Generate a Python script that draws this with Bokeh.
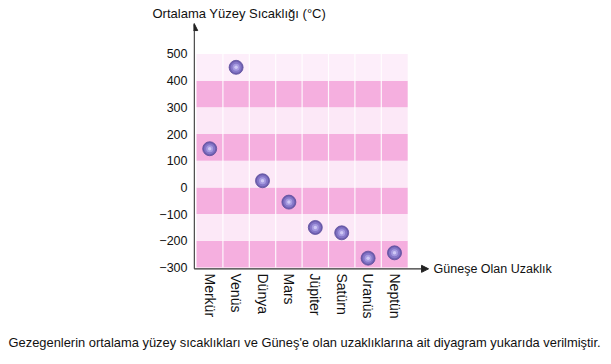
import math
from bokeh.plotting import figure
from bokeh.models import Range1d, FixedTicker, Arrow, NormalHead, Title, ColumnDataSource
from bokeh.core.properties import value
from bokeh.embed import file_html
from bokeh.resources import INLINE

planets = ["Merkür", "Venüs", "Dünya", "Mars", "Jüpiter", "Satürn", "Uranüs", "Neptün"]
temps = [145, 450, 25, -55, -150, -170, -265, -245]
y_ticks = [-300, -200, -100, 0, 100, 200, 300, 400, 500]
band_bottoms = [-300, -200, -100, 0, 100, 200, 300, 400]
band_colors = ["#f5afdf", "#fce8f7", "#f5afdf", "#fce8f7", "#f5afdf", "#fce8f7", "#f5afdf", "#fdeefa"]
y_title = "Ortalama Yüzey Sıcaklığı (°C)"
x_title = "Güneşe Olan Uzaklık"
caption = "Gezegenlerin ortalama yüzey sıcaklıkları ve Güneş'e olan uzaklıklarına ait diyagram yukarıda verilmiştir."

FONT = "Liberation Sans"
W, H = 610, 363
FL, FR, FT, FB = 193, 565, 20, 277
PXU = 26.4            # pixels per column
PYU = 0.2669          # pixels per degree
X0, Y0 = 196, 267     # pixel position of (0, -300)

p = figure(width=W, height=H, output_backend="svg", toolbar_location=None,
           x_range=Range1d((FL - X0) / PXU, (FR - X0) / PXU),
           y_range=Range1d(-300 - (FB - Y0) / PYU, -300 + (Y0 - FT) / PYU),
           min_border_left=FL, min_border_right=W - FR, min_border_top=FT,
           min_border_bottom=H - FB, background_fill_color="white",
           border_fill_color="white", outline_line_color=None)
p.grid.grid_line_color = None

n = len(planets)
xs = [i + 0.5 for i in range(n)]

# bands
p.quad(left=[0] * len(band_bottoms), right=[n] * len(band_bottoms),
       bottom=band_bottoms, top=[b + 100 for b in band_bottoms],
       fill_color=band_colors, line_color=None)
# white column separators
p.segment(x0=list(range(1, n)), x1=list(range(1, n)), y0=[-300] * (n - 1), y1=[500] * (n - 1),
          line_color="white", line_width=1.2, line_alpha=0.9)

# points (sphere-like)
src = ColumnDataSource(dict(x=xs, y=temps))
p.scatter("x", "y", source=src, size=14, fill_color="#6e5fb0", line_color="#5a4b9a", line_width=0.8)
p.scatter("x", "y", source=src, size=11, fill_color="#8677c8", line_color=None)
p.scatter("x", "y", source=src, size=7, fill_color="#a69ae0", line_color=None)
p.scatter("x", "y", source=src, size=3.5, fill_color="#cfc8f5", line_color=None)

# axes
p.yaxis.ticker = FixedTicker(ticks=y_ticks)
p.yaxis.major_label_overrides = {t: ("−" + str(-t) if t < 0 else str(t)) for t in y_ticks}
p.yaxis.major_tick_line_color = None
p.yaxis.minor_tick_line_color = None
p.yaxis.axis_line_color = None
p.yaxis.major_label_text_font = FONT
p.yaxis.major_label_text_font_size = "12.5px"
p.yaxis.major_label_text_color = "#111111"
p.yaxis.major_label_standoff = 0

p.xaxis.ticker = FixedTicker(ticks=xs)
p.xaxis.major_label_overrides = {x: name for x, name in zip(xs, planets)}
p.xaxis.major_label_orientation = -math.pi / 2
p.xaxis.major_tick_line_color = None
p.xaxis.minor_tick_line_color = None
p.xaxis.axis_line_color = None
p.xaxis.major_label_text_font = FONT
p.xaxis.major_label_text_font_size = "14px"
p.xaxis.major_label_text_color = "#111111"
p.xaxis.major_label_standoff = -10

# axis lines with arrowheads
ax0, ay0 = -0.087, -305
p.add_layout(Arrow(end=NormalHead(size=7, fill_color="#222222", line_color="#222222"),
                   x_start=ax0, y_start=ay0, x_end=ax0, y_end=614,
                   line_color="#333333", line_width=1.3))
p.add_layout(Arrow(end=NormalHead(size=7, fill_color="#222222", line_color="#222222"),
                   x_start=ax0, y_start=ay0, x_end=8.79, y_end=ay0,
                   line_color="#333333", line_width=1.3))

# x-axis name to the right of arrow
p.text(x=[8.98], y=[ay0], text=[x_title], text_font=value(FONT), text_font_size="12.5px",
       text_color="#111111", text_baseline="middle", text_align="left")

# y-axis name above, caption below
p.add_layout(Title(text=y_title, align="left", offset=152 - FL, text_font=FONT,
                   text_font_size="13px", text_font_style="normal", text_color="#111111",
                   standoff=-1), "above")
p.add_layout(Title(text=caption, align="left", offset=8 - FL, text_font=FONT,
                   text_font_size="12.9px", text_font_style="normal", text_color="#111111",
                   standoff=22), "below")

open("out.html", "w").write(file_html(p, INLINE))
